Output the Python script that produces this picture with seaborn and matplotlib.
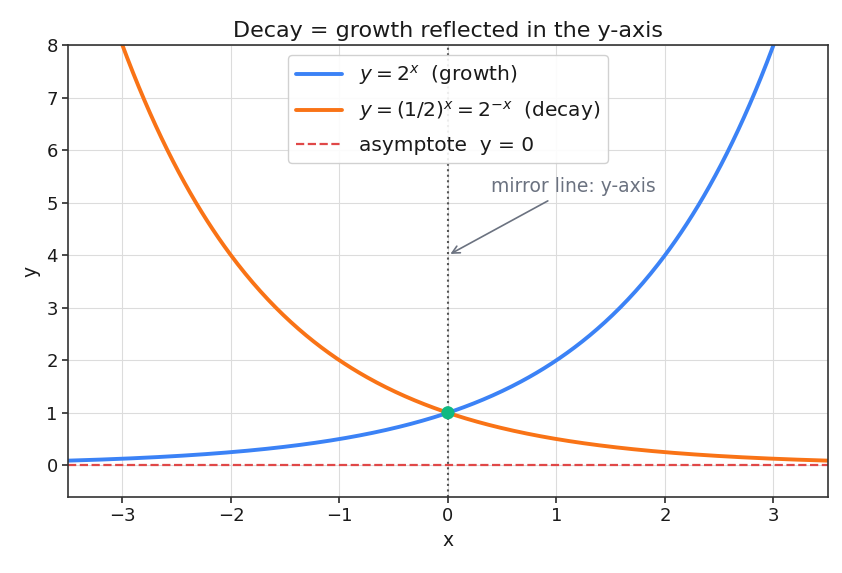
import numpy as np
import pandas as pd
import matplotlib
matplotlib.use('Agg')
import matplotlib.pyplot as plt
import seaborn as sns

# x grid for the curves
x_vals = np.linspace(-3.5, 3.5, 400)
growth_vals = 2.0 ** x_vals
decay_vals = 2.0 ** (-x_vals)

x_ticks = [-3, -2, -1, 0, 1, 2, 3]
y_ticks = [0, 1, 2, 3, 4, 5, 6, 7, 8]
point_x = [0]
point_y = [1]

sns.set_theme(style="whitegrid")
plt.rcParams['font.family'] = ['DejaVu Sans']
plt.rcParams.update({
    'axes.edgecolor': '#333333',
    'axes.linewidth': 1.2,
    'grid.color': '#dcdcdc',
    'grid.linewidth': 0.8,
    'text.color': '#1a1a1a',
    'axes.labelcolor': '#1a1a1a',
    'xtick.bottom': True,
    'ytick.left': True,
    'xtick.color': '#333333',
    'ytick.color': '#333333',
    'xtick.labelcolor': '#1a1a1a',
    'ytick.labelcolor': '#1a1a1a',
    'xtick.major.size': 4,
    'ytick.major.size': 4,
})

df = pd.DataFrame({'x': x_vals, 'growth': growth_vals, 'decay': decay_vals})

fig, ax = plt.subplots(figsize=(8.42, 5.73), dpi=100)

sns.lineplot(data=df, x='x', y='growth', ax=ax, color='#3b82f6', linewidth=2.8,
             label=r'$y = 2^x$  (growth)')
sns.lineplot(data=df, x='x', y='decay', ax=ax, color='#f97316', linewidth=2.8,
             label=r'$y = (1/2)^x = 2^{-x}$  (decay)')
ax.axhline(0, color='#e04848', linestyle='--', linewidth=1.6, label='asymptote  y = 0')
ax.axvline(0, color='#555555', linestyle=':', linewidth=1.5)
sns.scatterplot(x=point_x, y=point_y, ax=ax, color='#10b981', s=90, zorder=5,
                edgecolor='none')

ax.annotate('mirror line: y-axis', xy=(0, 4), xytext=(0.4, 5.2),
            fontsize=13.5, color='#6b7280',
            arrowprops=dict(arrowstyle='->', color='#6b7280', lw=1.2))

ax.set_xlim(-3.5, 3.5)
ax.set_ylim(-0.6, 8)
ax.set_xticks(x_ticks)
ax.set_yticks(y_ticks)
ax.tick_params(labelsize=13)
ax.set_xlabel('x', fontsize=13.5)
ax.set_ylabel('y', fontsize=13.5)
ax.set_title('Decay = growth reflected in the y-axis', fontsize=16)

leg = ax.legend(loc='upper center', fontsize=14.5, frameon=True, framealpha=0.9,
                bbox_to_anchor=(0.5, 1.0), handlelength=2.3, labelspacing=0.6)
leg.get_frame().set_edgecolor('#cccccc')

fig.subplots_adjust(left=0.081, right=0.983, top=0.921, bottom=0.133)
fig.savefig('out.png', dpi=100)
